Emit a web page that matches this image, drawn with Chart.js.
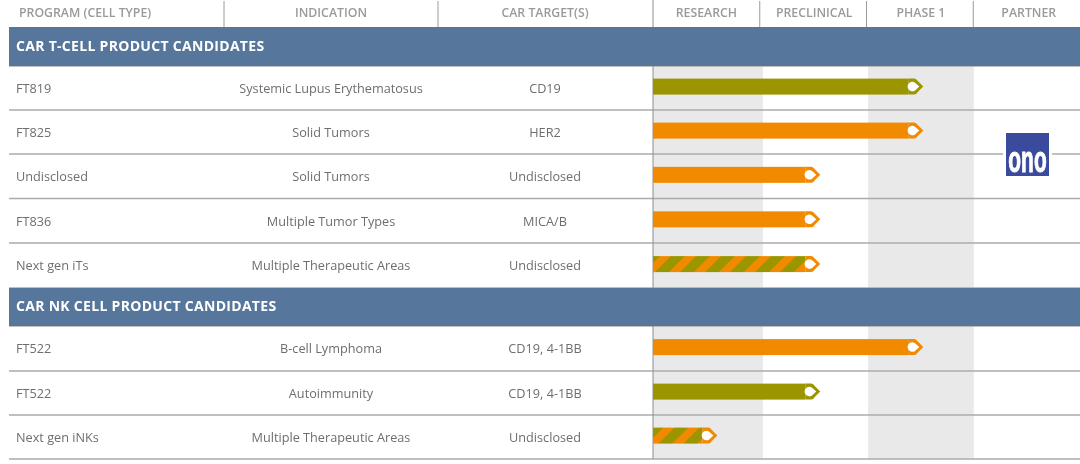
<!DOCTYPE html>
<html>
<head>
<meta charset="utf-8">
<style>
  html, body { margin: 0; padding: 0; background: #fff; }
  canvas { display: block; }
</style>
<script src="https://cdn.jsdelivr.net/npm/chart.js@4"></script>
</head>
<body>
<canvas id="pipeline" width="1080" height="464"></canvas>
<script>
// table content, section rows have no indication / target / bar
const programs = ['CAR T-CELL PRODUCT CANDIDATES', 'FT819', 'FT825', 'Undisclosed', 'FT836', 'Next gen iTs',
  'CAR NK CELL PRODUCT CANDIDATES', 'FT522', 'FT522', 'Next gen iNKs'];
const indications = [null, 'Systemic Lupus Erythematosus', 'Solid Tumors', 'Solid Tumors', 'Multiple Tumor Types',
  'Multiple Therapeutic Areas', null, 'B-cell Lymphoma', 'Autoimmunity', 'Multiple Therapeutic Areas'];
const targets = [null, 'CD19', 'HER2', 'Undisclosed', 'MICA/B', 'Undisclosed', null, 'CD19, 4-1BB', 'CD19, 4-1BB', 'Undisclosed'];
// how far each program got, 1 unit = one stage column
const progress = [null, 2.532, 2.532, 1.567, 1.567, 1.567, null, 2.532, 1.567, 0.603];
const therapyAreas = [null, 'auto', 'onc', 'onc', 'onc', 'both', null, 'onc', 'auto', 'both'];
const stages = ['RESEARCH', 'PRECLINICAL', 'PHASE 1', 'PARTNER'];
const leftHeaders = ['PROGRAM (CELL TYPE)', 'INDICATION', 'CAR TARGET(S)'];

// layout of the table
const rowHeights = [39, 44, 44, 44.5, 44.5, 45, 38, 45, 44, 44];
const ORANGE = '#f28a00';
const OLIVE = '#9b9600';
const BLUE = '#57769c';
const GRAY_BAND = '#e9e9e9';
const LINE = '#ababab';
const AXIS_WIDTH = 653;
const HEADER_HEIGHT = 27;
const FONT = '"Open Sans", "Noto Sans", sans-serif';

// rows are not all the same height, so the category scale needs its own pixel mapping
class RowScale extends Chart.CategoryScale {
  rowTop(index) {
    let y = this.top;
    for (let i = 0; i < index; i++) y += rowHeights[i];
    return y;
  }
  getPixelForValue(value) {
    const index = typeof value === 'number' ? value : this.parse(value);
    return this.rowTop(index) + rowHeights[index] / 2 - 1.4;
  }
}
RowScale.id = 'rows';
RowScale.defaults = Chart.CategoryScale.defaults;
Chart.register(RowScale);

function hatchPattern() {
  const size = 25;
  const c = document.createElement('canvas');
  c.width = size;
  c.height = size;
  const g = c.getContext('2d');
  g.fillStyle = OLIVE;
  g.fillRect(0, 0, size, size);
  g.fillStyle = ORANGE;
  for (const shift of [-34, -9, 16]) {
    g.beginPath();
    g.moveTo(shift, size);
    g.lineTo(shift + size, 0);
    g.lineTo(shift + size + 11, 0);
    g.lineTo(shift + 11, size);
    g.closePath();
    g.fill();
  }
  return g.canvas;
}

// bars end in a tag: pointed tip with a white hole
Chart.BarElement.prototype.draw = function (ctx) {
  const { x, y, base, height } = this;
  const half = height / 2;
  const opts = this.options;
  ctx.save();
  ctx.fillStyle = opts.backgroundColor;
  ctx.fillRect(base, y - half, x - 15 - base, height);
  ctx.fillStyle = opts.borderColor;
  ctx.beginPath();
  ctx.moveTo(x - 15, y - half);
  ctx.lineTo(x - 9, y - half);
  ctx.quadraticCurveTo(x - 7, y - half, x - 5.5, y - half + 2.5);
  ctx.lineTo(x, y);
  ctx.lineTo(x - 5.5, y + half - 2.5);
  ctx.quadraticCurveTo(x - 7, y + half, x - 9, y + half);
  ctx.lineTo(x - 15, y + half);
  ctx.closePath();
  ctx.fill();
  ctx.fillStyle = '#fff';
  ctx.beginPath();
  ctx.arc(x - 11, y, 4.7, Math.PI * 0.3, Math.PI * 1.7);
  ctx.lineTo(x - 4, y);
  ctx.closePath();
  ctx.fill();
  ctx.restore();
};

const tablePlugin = {
  id: 'table',
  beforeDatasetsDraw(chart) {
    const { ctx } = chart;
    const xs = chart.scales.x;
    const ys = chart.scales.y;
    const right = chart.width;
    ctx.save();

    // gray stage columns
    ctx.fillStyle = GRAY_BAND;
    for (const [from, to] of [[0, 1.03], [2.015, 3.005]]) {
      ctx.fillRect(xs.getPixelForValue(from), ys.top, xs.getPixelForValue(to) - xs.getPixelForValue(from), ys.bottom - ys.top);
    }

    // row lines
    ctx.strokeStyle = LINE;
    ctx.lineWidth = 1.4;
    for (let i = 1; i <= programs.length; i++) {
      const y = ys.rowTop(i);
      ctx.beginPath();
      ctx.moveTo(9, y);
      ctx.lineTo(right, y);
      ctx.stroke();
    }

    // vertical line + header separators
    ctx.strokeStyle = '#8e8e8e';
    ctx.lineWidth = 1;
    ctx.beginPath();
    ctx.moveTo(xs.left, 0);
    ctx.lineTo(xs.left, ys.bottom);
    ctx.stroke();
    ctx.strokeStyle = '#9a9a9a';
    for (const px of [224, 438, xs.getPixelForValue(1), xs.getPixelForValue(2), xs.getPixelForValue(3)]) {
      ctx.beginPath();
      ctx.moveTo(px, 1);
      ctx.lineTo(px, HEADER_HEIGHT);
      ctx.stroke();
    }

    // left header texts
    ctx.fillStyle = '#9a9a9a';
    ctx.font = '600 12.3px ' + FONT;
    ctx.textBaseline = 'middle';
    ctx.textAlign = 'left';
    ctx.fillText(leftHeaders[0], 19, 13);
    ctx.textAlign = 'center';
    ctx.fillText(leftHeaders[1], 331, 13);
    ctx.fillText(leftHeaders[2], 545, 13);

    // rows
    programs.forEach((label, i) => {
      const y = ys.getPixelForValue(i);
      if (indications[i] === null) {
        ctx.fillStyle = BLUE;
        ctx.fillRect(9, ys.rowTop(i), right - 9, rowHeights[i]);
        ctx.fillStyle = '#fff';
        ctx.font = '700 14px ' + FONT;
        ctx.letterSpacing = '0.3px';
        ctx.textAlign = 'left';
        ctx.fillText(label, 16, y + 1.5);
        ctx.letterSpacing = '0px';
        return;
      }
      ctx.fillStyle = '#6e6e6e';
      ctx.font = '12.7px ' + FONT;
      ctx.textAlign = 'left';
      ctx.fillText(label, 16, y + 2.7);
      ctx.textAlign = 'center';
      ctx.fillText(indications[i], 331, y + 2.7);
      ctx.fillText(targets[i], 545, y + 2.7);
    });

    // partner logo sits on the row line with a white gap around it
    ctx.fillStyle = '#fff';
    ctx.fillRect(1003, 150, 49, 8);
    ctx.fillStyle = '#3a4a9c';
    ctx.fillRect(1006, 133, 43, 43);
    ctx.save();
    ctx.translate(1027.5, 172);
    ctx.scale(0.72, 1.3);
    ctx.fillStyle = '#fff';
    ctx.strokeStyle = '#fff';
    ctx.lineWidth = 0.8;
    ctx.font = '700 29px "Liberation Sans", sans-serif';
    ctx.textAlign = 'center';
    ctx.textBaseline = 'alphabetic';
    ctx.fillText('ono', 0, 0);
    ctx.strokeText('ono', 0, 0);
    ctx.restore();

    ctx.restore();
  },
};

const hatch = document.createElement('canvas').getContext('2d').createPattern(hatchPattern(), 'repeat');
const barFill = { auto: OLIVE, onc: ORANGE, both: hatch };
const tagFill = { auto: OLIVE, onc: ORANGE, both: ORANGE };

new Chart(document.getElementById('pipeline'), {
  type: 'bar',
  plugins: [tablePlugin],
  data: {
    labels: programs,
    datasets: [{
      data: progress,
      barThickness: 16,
      borderWidth: 0,
      backgroundColor: therapyAreas.map((a) => barFill[a] || OLIVE),
      borderColor: therapyAreas.map((a) => tagFill[a] || OLIVE),
    }],
  },
  options: {
    indexAxis: 'y',
    responsive: false,
    animation: false,
    layout: { padding: { bottom: 5 } },
    plugins: { legend: { display: false }, tooltip: { enabled: false } },
    scales: {
      x: {
        position: 'top',
        min: 0,
        max: 4,
        grid: { display: false, drawTicks: false },
        border: { display: false },
        afterBuildTicks(scale) {
          scale.ticks = [0.5, 1.51, 2.51, 3.52].map((value) => ({ value }));
        },
        afterFit(scale) {
          scale.height = HEADER_HEIGHT;
        },
        ticks: {
          autoSkip: false,
          maxRotation: 0,
          padding: 6,
          color: '#9a9a9a',
          font: { family: FONT, size: 12.3, weight: '600' },
          callback: (value, index) => stages[index],
        },
      },
      y: {
        type: 'rows',
        grid: { display: false },
        border: { display: false },
        ticks: { display: false },
        afterFit(scale) {
          scale.width = AXIS_WIDTH;
        },
      },
    },
  },
});
</script>
</body>
</html>
